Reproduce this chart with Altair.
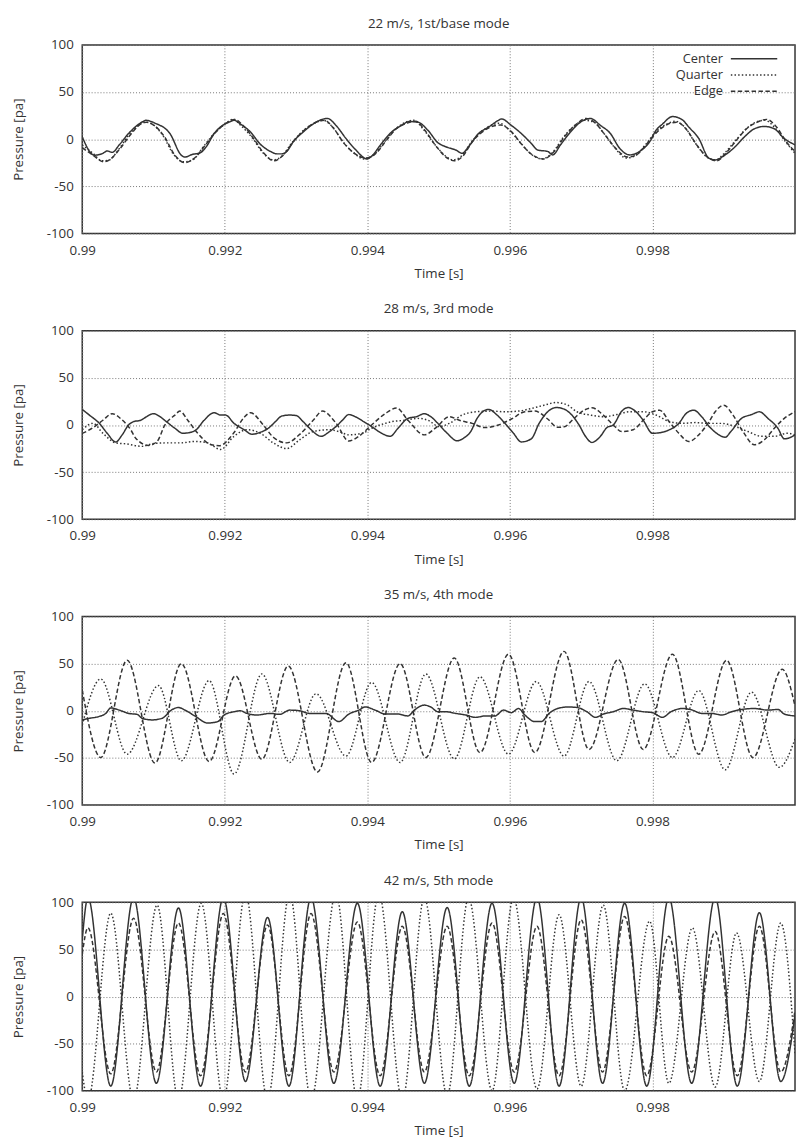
import altair as alt
import pandas as pd

FONT = "Open Sans"
TXT = "#333333"
LINE = "#333333"

T0 = 0.99
SERIES = ["Center", "Quarter", "Edge"]
DASHES = [[1, 0], [1.5, 2.2], [4.5, 2.5]]
XTICKS = [0.99, 0.992, 0.994, 0.996, 0.998]
YTICKS = [-100, -50, 0, 50, 100]
TITLES = ["22 m/s, 1st/base mode", "28 m/s, 3rd mode", "35 m/s, 4th mode", "42 m/s, 5th mode"]

# (time after 0.99 s in ms, pressure in pa)
P1_CENTER = [(0, 2.4), (0.17, -17), (0.29, -15), (0.35, -12.5), (0.42, -14), (0.52, -6), (0.65, 6), (0.77, 14.6), (0.86, 19), (0.89, 20), (1.02, 17), (1.23, 6), (1.39, -17), (1.44, -19), (1.55, -16), (1.64, -15), (1.74, -8), (1.85, 6), (1.97, 14.6), (2.08, 18.7), (2.13, 20), (2.22, 16), (2.36, 7.6), (2.50, -5.5), (2.64, -13), (2.73, -15.6), (2.80, -15.6), (2.87, -13), (2.96, -2.8), (3.10, 7.6), (3.23, 15.6), (3.44, 22), (3.56, 14.6), (3.70, 0.7), (3.83, -10.8), (4.00, -21), (4.06, -18), (4.20, -4.5), (4.34, 7.6), (4.48, 14.6), (4.59, 18.7), (4.71, 18), (4.85, 9.4), (4.99, -3.8), (5.10, -8), (5.24, -11.5), (5.33, -15), (5.42, -8), (5.56, 6), (5.70, 12.8), (5.84, 20), (5.88, 21.5), (6.02, 14.6), (6.16, 6), (6.30, -4.5), (6.39, -11.5), (6.53, -13), (6.60, -16.7), (6.71, -6), (6.85, 7.6), (6.99, 18), (7.13, 22), (7.27, 14.6), (7.41, 6), (7.54, -9.7), (7.68, -16.7), (7.82, -13), (7.96, -2.8), (8.05, 9.4), (8.14, 16), (8.28, 24), (8.42, 20.5), (8.51, 12.8), (8.65, 0.7), (8.79, -20), (8.88, -22), (9.02, -16.7), (9.16, -8), (9.29, 2.4), (9.43, 11), (9.57, 13.5), (9.71, 11), (9.85, 0.7), (10.0, -6)]
P1_QUARTER = [(0, -6), (0.15, -15), (0.28, -23), (0.38, -22), (0.50, -12), (0.65, 4), (0.78, 14), (0.88, 18), (0.98, 16), (1.13, 4), (1.28, -16), (1.42, -24), (1.55, -22), (1.70, -8), (1.85, 6), (2.00, 16), (2.12, 21), (2.23, 14), (2.38, 2), (2.53, -14), (2.68, -22), (2.80, -18), (2.94, -4), (3.10, 9), (3.26, 17), (3.38, 20), (3.50, 14), (3.66, -3), (3.80, -14), (3.96, -21), (4.10, -16), (4.25, -2), (4.40, 11), (4.54, 18), (4.65, 20), (4.78, 11), (4.95, -6), (5.10, -18), (5.20, -22), (5.32, -18), (5.45, -4), (5.60, 8), (5.75, 15), (5.85, 17), (6.00, 9), (6.15, -4), (6.30, -16), (6.45, -21), (6.60, -14), (6.75, 2), (6.90, 14), (7.05, 20), (7.18, 18), (7.32, 6), (7.48, -10), (7.63, -20), (7.75, -18), (7.90, -6), (8.05, 8), (8.20, 16), (8.32, 19), (8.46, 12), (8.60, -4), (8.75, -18), (8.88, -22), (9.02, -14), (9.16, -2), (9.30, 10), (9.45, 18), (9.58, 20), (9.72, 12), (9.86, -2), (10.0, -15)]
P1_EDGE = [(0, -9), (0.15, -17), (0.30, -24), (0.40, -21), (0.53, -10), (0.68, 5), (0.80, 15), (0.90, 18), (1.00, 15), (1.15, 3), (1.30, -17), (1.44, -25), (1.56, -21), (1.72, -7), (1.87, 7), (2.02, 17), (2.14, 21), (2.25, 15), (2.40, 1), (2.55, -15), (2.69, -23), (2.82, -17), (2.96, -3), (3.12, 10), (3.28, 18), (3.40, 20), (3.52, 12), (3.68, -5), (3.82, -15), (3.98, -20), (4.12, -15), (4.27, -1), (4.42, 12), (4.56, 17), (4.68, 19), (4.80, 10), (4.97, -8), (5.12, -20), (5.22, -23), (5.34, -18), (5.47, -3), (5.62, 8), (5.77, 14), (5.87, 15), (6.02, 8), (6.17, -6), (6.32, -17), (6.47, -21), (6.62, -13), (6.77, 3), (6.92, 15), (7.07, 22), (7.20, 17), (7.34, 4), (7.50, -11), (7.65, -19), (7.77, -17), (7.92, -5), (8.07, 8), (8.22, 16), (8.34, 18), (8.48, 10), (8.62, -6), (8.77, -19), (8.90, -23), (9.04, -14), (9.18, -1), (9.32, 11), (9.47, 18), (9.60, 21), (9.74, 13), (9.88, -3), (10.0, -13)]

P2_CENTER = [(0, 16.5), (0.10, 10.5), (0.24, 1.7), (0.35, -8.8), (0.47, -18), (0.56, -10.5), (0.65, 0), (0.72, 3.5), (0.82, 5), (0.88, 7.7), (1.00, 12), (1.09, 8.8), (1.18, 3.5), (1.30, -3.5), (1.41, -8.8), (1.51, -8), (1.60, -5), (1.71, 5), (1.85, 13), (1.94, 10.5), (2.01, 10.5), (2.13, 1.7), (2.27, -5), (2.38, -9.8), (2.50, -7.7), (2.61, -3.5), (2.71, 3.5), (2.80, 9.5), (2.91, 10.5), (3.00, 10), (3.10, 3.5), (3.21, -5), (3.35, -12), (3.47, -7), (3.56, -1.7), (3.65, 5), (3.74, 11), (3.83, 8.8), (3.95, 3.5), (4.06, -1.7), (4.20, -8.8), (4.32, -12), (4.43, -3.5), (4.57, 7), (4.69, 8.8), (4.80, 12), (4.89, 8.8), (5.01, 0), (5.12, -8.8), (5.26, -16.8), (5.35, -14), (5.45, -7), (5.54, 7), (5.70, 16.5), (5.82, 10.5), (5.93, 1.7), (6.05, -8.8), (6.16, -18), (6.30, -14.7), (6.41, 1.7), (6.53, 14), (6.65, 18.5), (6.76, 16.8), (6.85, 12), (6.97, 0), (7.06, -12), (7.15, -18.5), (7.27, -12), (7.36, -2.8), (7.45, 0), (7.57, 14.7), (7.66, 18.5), (7.77, 14), (7.87, 5), (8.00, -8.8), (8.14, -7.7), (8.24, -5), (8.37, 1.7), (8.47, 12), (8.58, 15.7), (8.69, 8.8), (8.81, -2.8), (8.90, -8.8), (9.02, -13), (9.10, -7), (9.25, 7), (9.39, 11), (9.50, 14), (9.62, 7), (9.76, -3.5), (9.85, -14.7), (9.94, -13), (10.0, -10.5)]
P2_QUARTER = [(0, -5), (0.15, 1.7), (0.29, -8.8), (0.47, -19), (0.61, -20), (0.84, -22.7), (0.98, -20), (1.16, -19), (1.39, -19), (1.58, -17.5), (1.76, -19), (1.94, -26), (2.13, -12), (2.31, -5), (2.50, -8.8), (2.68, -19), (2.87, -25), (3.05, -15.7), (3.24, -7), (3.47, -5), (3.60, -7), (3.74, -10.5), (3.93, -8.8), (4.06, -3.5), (4.25, 1.7), (4.34, 3.5), (4.53, 5), (4.71, 7), (4.85, 5), (5.01, -1.7), (5.15, 1.7), (5.33, 10.5), (5.52, 14), (5.75, 14.7), (5.93, 14), (6.12, 14.7), (6.30, 17.5), (6.48, 21), (6.65, 23.8), (6.81, 21), (6.94, 14), (7.13, 10.5), (7.31, 8.8), (7.50, 11), (7.68, 14), (7.87, 14), (8.05, 10.5), (8.24, 3.5), (8.42, 1.7), (8.60, 2.5), (8.79, 1.7), (8.97, 1.7), (9.16, -1.7), (9.34, -7), (9.53, -12), (9.71, -12), (9.89, -8.8), (10.0, -10.5)]
P2_EDGE = [(0, -9), (0.15, -3), (0.29, 5), (0.42, 12), (0.55, 6), (0.68, -5), (0.75, -14), (0.93, -21.7), (1.05, -17.5), (1.16, 0), (1.30, 10.5), (1.37, 14.7), (1.48, 5), (1.62, -8.8), (1.81, -21), (1.92, -22), (2.13, -8), (2.27, 8), (2.36, 13), (2.54, 0), (2.68, -13), (2.87, -19), (3.05, -10), (3.24, 5), (3.37, 14.7), (3.56, 2), (3.74, -17), (3.88, -12), (4.06, 0), (4.25, 12), (4.41, 18), (4.57, 5), (4.80, -10.5), (4.96, -3), (5.15, 8.8), (5.29, 5), (5.47, 1.7), (5.65, -2.8), (5.84, 0), (6.02, 6.3), (6.21, 14), (6.35, 14.7), (6.53, 6.3), (6.67, -2.5), (6.76, -2), (6.90, 7), (7.04, 15.7), (7.15, 18.2), (7.31, 10.5), (7.45, 0), (7.57, -7), (7.73, -5), (7.87, 5), (8.00, 14), (8.10, 15.7), (8.24, 3), (8.37, -8.8), (8.51, -17.5), (8.65, -10.5), (8.79, 3), (8.88, 14), (9.00, 21), (9.13, 10.5), (9.27, -7), (9.43, -21), (9.57, -15.7), (9.71, -3.5), (9.85, 7), (10.0, 14)]

P3_CENTER = [(0, -9.7), (0.10, -8), (0.24, -6), (0.33, -2.8), (0.40, 3), (0.52, 0.7), (0.65, -2.8), (0.77, -3.8), (0.84, -8), (0.98, -9.7), (1.12, -8), (1.25, 0.7), (1.35, 3.5), (1.44, 0.7), (1.58, -5.5), (1.76, -13), (1.90, -11.5), (1.99, -4.5), (2.13, -1), (2.22, 0), (2.31, -2.8), (2.45, -4.5), (2.64, -2.8), (2.77, -3.8), (2.91, 0.7), (3.05, 0), (3.19, -2.8), (3.42, -2.8), (3.60, -11.5), (3.74, -3.5), (3.88, 0.7), (3.97, 4), (4.11, 0.7), (4.25, -3.5), (4.43, -3.5), (4.57, -5.5), (4.66, 0.7), (4.80, 6), (4.89, 4), (4.99, -1), (5.10, -1), (5.24, -2.8), (5.38, -4.5), (5.52, -7), (5.65, -5.5), (5.79, -5.5), (5.91, 0.7), (6.02, -2), (6.12, 2.4), (6.21, -4.5), (6.35, -11.5), (6.44, -11.5), (6.55, -2.8), (6.67, 2.4), (6.81, 4), (6.94, 3.5), (7.08, -1), (7.20, -7), (7.31, -3.5), (7.45, -1), (7.59, 2.4), (7.73, 0.7), (7.87, -1), (8.00, -2), (8.14, -7), (8.26, -1), (8.42, 2.4), (8.56, 0.7), (8.69, -2.8), (8.83, -2.8), (8.97, -4.5), (9.11, -1), (9.25, 1.4), (9.43, 2.4), (9.62, 0.7), (9.76, 1.4), (9.85, -3.5), (10.0, -5.5)]
P3_QUARTER = [(0, -15), (0.26, 33.7), (0.63, -46), (1.07, 26.7), (1.39, -53), (1.78, 32), (2.13, -67), (2.52, 39), (2.91, -54.8), (3.28, 18), (3.70, -48), (4.06, 30), (4.46, -54.8), (4.82, 39), (5.22, -51), (5.58, 36), (5.98, -46), (6.37, 31), (6.76, -48), (7.11, 31), (7.50, -53), (7.89, 28.5), (8.28, -49.6), (8.65, 21.5), (9.02, -62.5), (9.39, 19.8), (9.78, -60), (10.0, -30)]
P3_EDGE = [(0, 22), (0.26, -49.6), (0.63, 53.5), (1.02, -55.5), (1.39, 50), (1.78, -53.8), (2.15, 37), (2.52, -51.4), (2.89, 47.5), (3.30, -65), (3.70, 51), (4.06, -54.8), (4.46, 50), (4.82, -49.6), (5.22, 56), (5.58, -44.4), (5.98, 60), (6.35, -44.4), (6.76, 63), (7.11, -41), (7.52, 54.5), (7.87, -41), (8.28, 60), (8.65, -46), (9.04, 53.5), (9.41, -49.6), (9.82, 44), (10.0, 5)]

P4_CENTER = [(0, 60), (0.08, 105), (0.40, -95), (0.72, 105), (1.04, -92), (1.35, 94), (1.66, -95), (1.98, 105), (2.29, -90), (2.60, 84), (2.90, -95), (3.21, 105), (3.53, -92), (3.86, 99), (4.18, -95), (4.49, 90), (4.80, -92), (5.12, 94.5), (5.43, -95), (5.75, 99), (6.06, -92), (6.38, 105), (6.69, -95), (7.00, 105), (7.30, -92), (7.61, 99), (7.92, -95), (8.23, 105), (8.55, -92), (8.88, 105), (9.19, -95), (9.50, 89), (9.80, -90), (10.0, -20)]
P4_QUARTER = [(0, -80), (0.08, -110), (0.40, 88.5), (0.72, -110), (1.05, 97), (1.35, -110), (1.67, 99), (1.98, -110), (2.29, 110), (2.60, -110), (2.91, 110), (3.21, -110), (3.56, 110), (3.86, -110), (4.16, 110), (4.49, -110), (4.80, 105), (5.12, -105), (5.42, 105), (5.75, -100), (6.05, 105), (6.38, -98), (6.69, 86.8), (7.00, -95), (7.31, 97), (7.61, -100), (7.96, 80), (8.23, -92), (8.56, 72.8), (8.88, -96), (9.18, 67.5), (9.50, -90), (9.80, 78), (10.0, -60)]
P4_EDGE = [(0, 45), (0.08, 73), (0.40, -82), (0.72, 83), (1.04, -80), (1.35, 78), (1.66, -84), (1.98, 88), (2.29, -80), (2.60, 76), (2.90, -84), (3.21, 88), (3.53, -80), (3.86, 79), (4.18, -84), (4.49, 74.5), (4.80, -80), (5.12, 74.5), (5.43, -84), (5.75, 78), (6.06, -80), (6.38, 74.5), (6.69, -84), (7.00, 81.5), (7.30, -80), (7.61, 85), (7.92, -84), (8.23, 64), (8.55, -80), (8.88, 69), (9.19, -84), (9.50, 74.5), (9.80, -80), (10.0, -15)]

PANELS = [
    (P1_CENTER, P1_QUARTER, P1_EDGE),
    (P2_CENTER, P2_QUARTER, P2_EDGE),
    (P3_CENTER, P3_QUARTER, P3_EDGE),
    (P4_CENTER, P4_QUARTER, P4_EDGE),
]

W, H = 722, 191


def make_frame(series_lists):
    rows = []
    for name, pts in zip(SERIES, series_lists):
        for ms, v in pts:
            rows.append({"t": round(T0 + ms / 1000.0, 7), "p": v, "s": name})
    return pd.DataFrame(rows)


def legend_layers():
    layers = []
    for k, name in enumerate(SERIES):
        d = pd.DataFrame({"s": [name]})
        yk = 14 + 16.5 * k
        txt = alt.Chart(d).mark_text(
            align="right", baseline="middle", font=FONT, fontSize=13, color=TXT
        ).encode(x=alt.value(649), y=alt.value(yk), text="s:N")
        rule = alt.Chart(d).mark_rule(
            color=LINE, strokeWidth=1.5, strokeDash=DASHES[k]
        ).encode(x=alt.value(657), x2=alt.value(704), y=alt.value(yk))
        layers += [txt, rule]
    return layers


def panel(series_lists, title, with_legend):
    df = make_frame(series_lists)
    lines = alt.Chart(df).mark_line(
        clip=True, interpolate="monotone", color=LINE, strokeWidth=1.5
    ).encode(
        x=alt.X("t:Q", scale=alt.Scale(domain=[0.99, 1.0], nice=False, zero=False),
                axis=alt.Axis(values=XTICKS, format=".3~f", title="Time [s]")),
        y=alt.Y("p:Q", scale=alt.Scale(domain=[-100, 100], nice=False),
                axis=alt.Axis(values=YTICKS, labelExpr="'' + datum.value", title="Pressure [pa]")),
        strokeDash=alt.StrokeDash("s:N", scale=alt.Scale(domain=SERIES, range=DASHES), legend=None),
    )
    layers = [lines] + (legend_layers() if with_legend else [])
    return alt.layer(*layers).properties(
        width=W, height=H,
        title=alt.TitleParams(title, font=FONT, fontSize=13.5, fontWeight="normal", color=TXT, offset=8),
    )


charts = [panel(PANELS[i], TITLES[i], i == 0) for i in range(4)]

chart = alt.vconcat(*charts, spacing=20.5).configure(
    padding={"left": 2.2, "top": 0, "right": 0, "bottom": 0}, font=FONT
).configure_view(
    stroke="#333333", strokeWidth=1.5
).configure_axis(
    labelFont=FONT, labelFontSize=13.5, labelColor=TXT,
    titleFont=FONT, titleFontSize=13.5, titleFontWeight="normal", titleColor=TXT,
    domain=False, ticks=False, tickSize=0,
    grid=True, gridDash=[1, 2], gridColor="#777777", gridWidth=1,
    labelFlush=False, labelOverlap=False,
).configure_axisX(
    labelPadding=10, titlePadding=10
).configure_axisY(
    labelPadding=9, titlePadding=21
)

chart.save("out.html", embed_options={"renderer": "svg", "actions": False})
